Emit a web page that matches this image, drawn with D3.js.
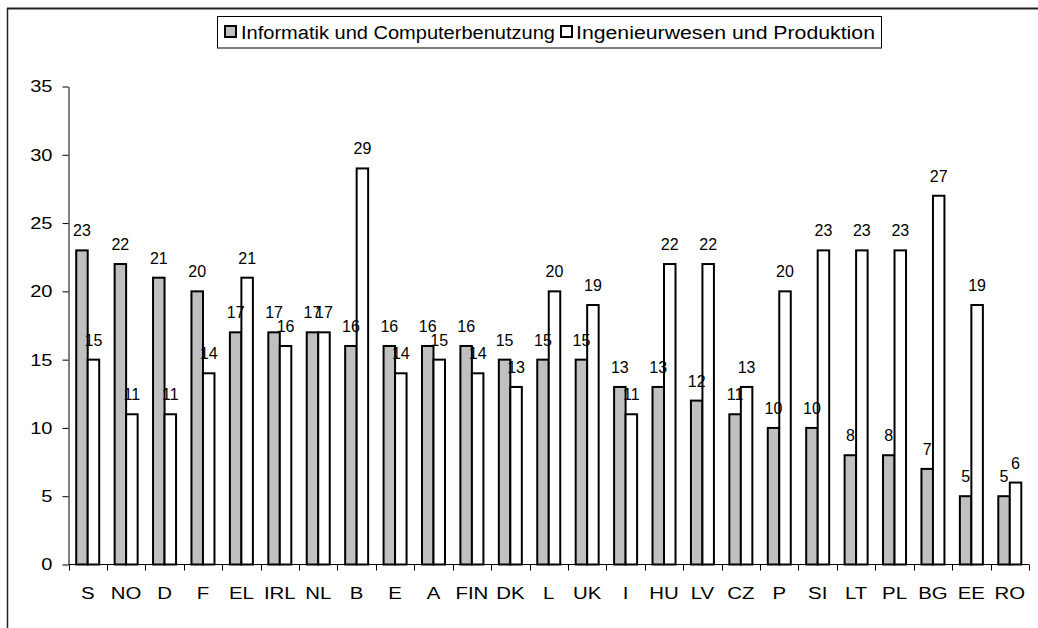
<!DOCTYPE html>
<html>
<head>
<meta charset="utf-8">
<script src="https://cdn.jsdelivr.net/npm/d3@7"></script>
<style>
  html, body { margin: 0; padding: 0; background: #fff; }
  svg { display: block; font-family: "Liberation Sans", Arial, sans-serif; }
</style>
</head>
<body>
<svg id="chart" width="1038" height="628"></svg>
<script>
const categories = ["S","NO","D","F","EL","IRL","NL","B","E","A","FIN","DK","L","UK","I","HU","LV","CZ","P","SI","LT","PL","BG","EE","RO"];
const informatik = [23,22,21,20,17,17,17,16,16,16,16,15,15,15,13,13,12,11,10,10,8,8,7,5,5];
const ingenieur  = [15,11,11,14,21,16,17,29,14,15,14,13,20,19,11,22,22,13,20,23,23,23,27,19,6];
const seriesNames = ["Informatik und Computerbenutzung", "Ingenieurwesen und Produktion"];
const seriesColors = ["#c0c0c0", "#ffffff"];
const yTicks = [0,5,10,15,20,25,30,35];

const svg = d3.select("#chart");

// outer frame
svg.append("line").attr("x1", 7).attr("x2", 1038).attr("y1", 8.5).attr("y2", 8.5)
  .attr("stroke", "#222").attr("stroke-width", 2);
svg.append("line").attr("x1", 7.5).attr("x2", 7.5).attr("y1", 8).attr("y2", 628)
  .attr("stroke", "#222").attr("stroke-width", 1.5);

const x = d3.scaleBand().domain(categories).range([68.5, 1029]).padding(0);
const sub = d3.scaleBand().domain([0, 1]).range([-11.5, 11.5]).padding(0);
const y = d3.scaleLinear().domain([0, 35]).range([564.5, 86.5]);

const series = [informatik, ingenieur];

// y axis
const yAxis = svg.append("g").attr("transform", "translate(68.5,0)")
  .call(d3.axisLeft(y).tickValues(yTicks).tickSize(6).tickSizeOuter(0).tickPadding(10));
yAxis.select(".domain").attr("stroke", "#000");
yAxis.selectAll(".tick line").attr("stroke", "#000");
yAxis.selectAll(".tick text")
  .attr("font-size", 17).attr("font-family", "Liberation Sans, Arial, sans-serif")
  .attr("fill", "#000")
  .attr("x", null)
  .attr("transform", "translate(-16,0) scale(1.18,1)");

// x axis line + boundary ticks
const y0 = y(0);
svg.append("line").attr("x1", 68.5).attr("x2", 1029).attr("y1", y0).attr("y2", y0)
  .attr("stroke", "#000");
const bounds = categories.map(c => x(c)).concat([x.range()[1]]);
svg.append("g").selectAll("line").data(bounds).join("line")
  .attr("x1", d => Math.round(d) + 0.5).attr("x2", d => Math.round(d) + 0.5)
  .attr("y1", y0).attr("y2", y0 + 6).attr("stroke", "#000");

// category labels
svg.append("g").selectAll("text").data(categories).join("text")
  .attr("transform", d => `translate(${x(d) + x.bandwidth() / 2},599) scale(1.2,1)`)
  .attr("text-anchor", "middle").attr("font-size", 17).attr("fill", "#000")
  .text(d => d);

// bars
series.forEach((vals, j) => {
  const g = svg.append("g");
  g.selectAll("rect").data(vals).join("rect")
    .attr("x", (d, i) => x(categories[i]) + x.bandwidth() / 2 + sub(j))
    .attr("width", sub.bandwidth())
    .attr("y", d => y(d))
    .attr("height", d => y(0) - y(d))
    .attr("fill", seriesColors[j])
    .attr("stroke", "#000").attr("stroke-width", 2);
});

// value labels
series.forEach((vals, j) => {
  svg.append("g").selectAll("text").data(vals).join("text")
    .attr("x", (d, i) => x(categories[i]) + x.bandwidth() / 2 + sub(j) + sub.bandwidth() / 2)
    .attr("y", d => y(d) - 14)
    .attr("text-anchor", "middle").attr("font-size", 16).attr("fill", "#000")
    .text(d => d);
});

// legend
const legend = svg.append("g");
legend.append("rect").attr("x", 217.5).attr("y", 16.5).attr("width", 664).attr("height", 31.5)
  .attr("fill", "#fff").attr("stroke", "#000");
const legendItems = [
  { sx: 225, tx: 241, len: 314 },
  { sx: 561, tx: 576, len: 299 }
];
legendItems.forEach((it, j) => {
  legend.append("rect").attr("x", it.sx).attr("y", 26).attr("width", 11).attr("height", 11)
    .attr("fill", seriesColors[j]).attr("stroke", "#000").attr("stroke-width", 2);
  legend.append("text").attr("x", it.tx).attr("y", 38.5)
    .attr("font-size", 18).attr("fill", "#000")
    .attr("textLength", it.len).attr("lengthAdjust", "spacingAndGlyphs")
    .text(seriesNames[j]);
});
</script>
</body>
</html>
